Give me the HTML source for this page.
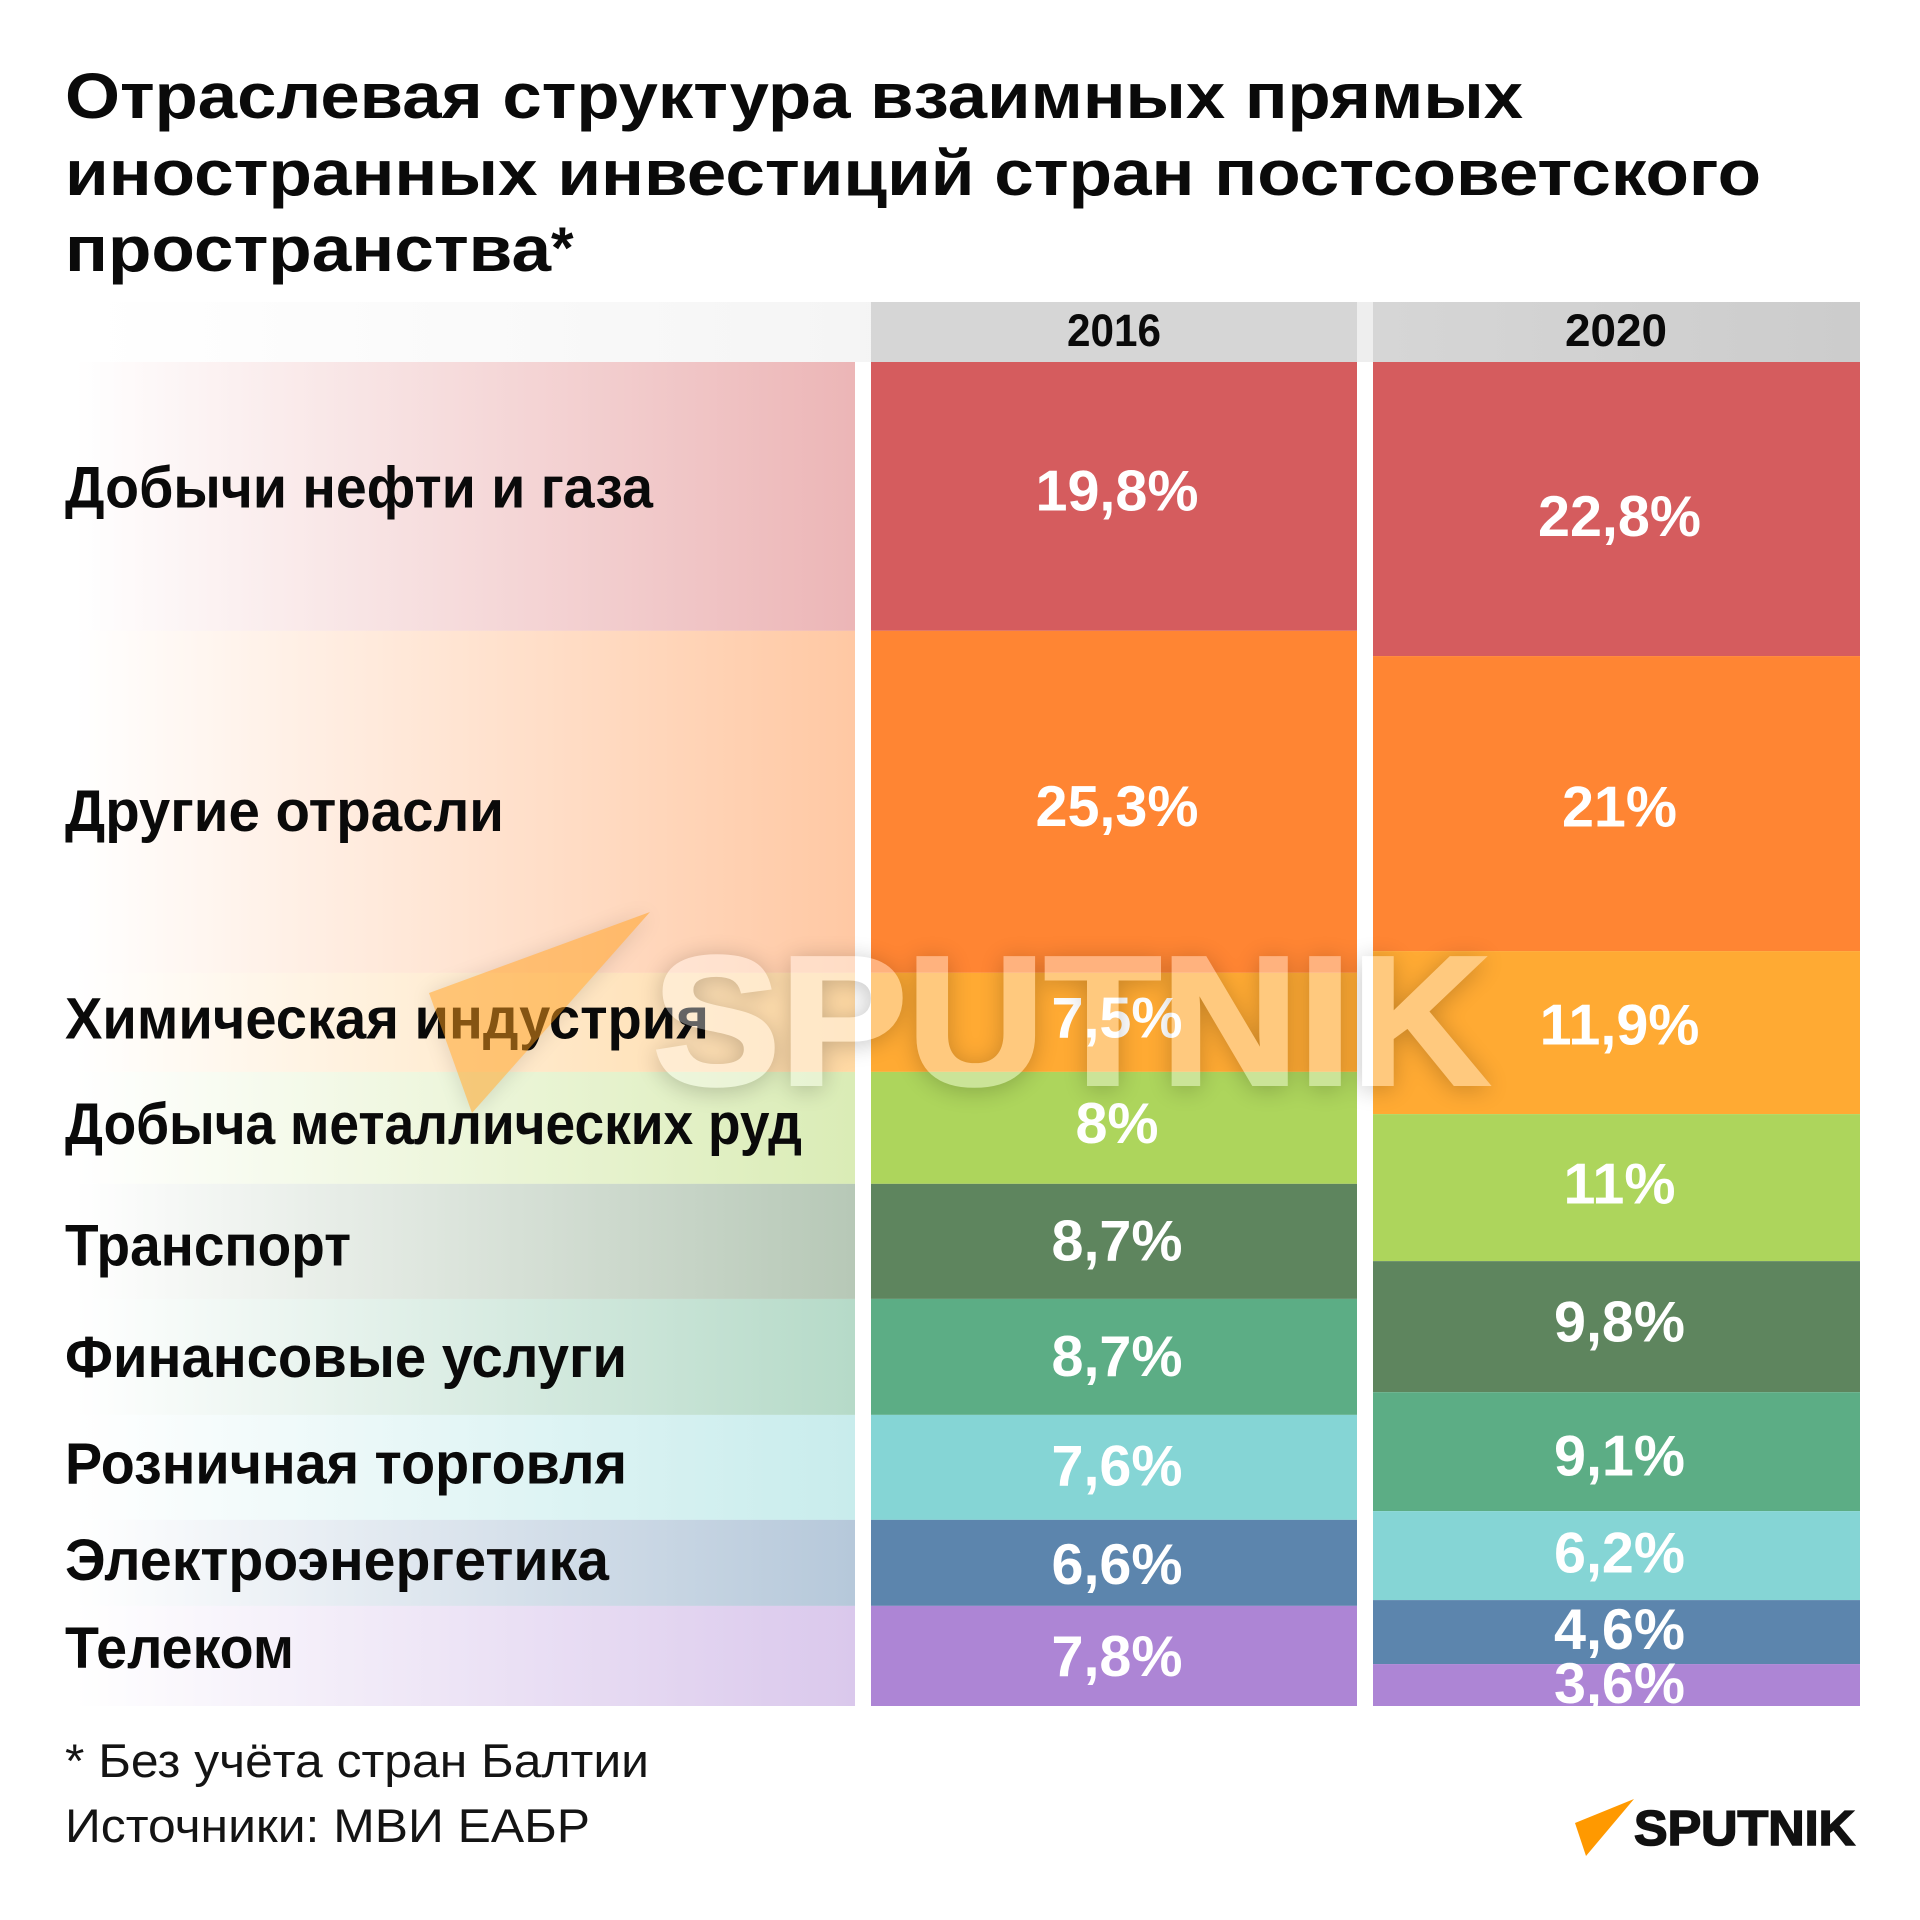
<!DOCTYPE html>
<html lang="ru">
<head>
<meta charset="utf-8">
<title>Отраслевая структура взаимных прямых иностранных инвестиций</title>
<style>
html,body{margin:0;padding:0;background:#fff;}
svg{display:block;}
text{font-family:"Liberation Sans","Noto Sans CJK SC",sans-serif;}
</style>
</head>
<body>
<svg id="chart" xmlns="http://www.w3.org/2000/svg" width="1920" height="1920" viewBox="0 0 1920 1920">
  <defs id="defs">
    <linearGradient id="header-fade" gradientUnits="userSpaceOnUse" x1="90" y1="0" x2="1373" y2="0">
      <stop offset="0" stop-color="#ffffff"/>
      <stop offset="1" stop-color="#eeeeee"/>
    </linearGradient>
    <linearGradient id="header-2020-fade" gradientUnits="userSpaceOnUse" x1="1373" y1="0" x2="1860" y2="0">
      <stop offset="0" stop-color="#d6d6d6"/>
      <stop offset="1" stop-color="#cccccc"/>
    </linearGradient>
    <clipPath id="plot-clip"><rect x="0" y="362" width="1920" height="1344"/></clipPath>
  </defs>
  <rect width="1920" height="1920" fill="#ffffff"/>

  <g font-size="64" font-weight="700" fill="#0a0a0a">
    <text x="65" y="118" textLength="1458" lengthAdjust="spacingAndGlyphs">Отраслевая структура взаимных прямых</text>
    <text x="65" y="195" textLength="1696" lengthAdjust="spacingAndGlyphs">иностранных инвестиций стран постсоветского</text>
    <text x="65" y="271" textLength="486" lengthAdjust="spacingAndGlyphs">пространства</text>
    <text x="551" y="268" font-size="58">*</text>
  </g>

  <rect x="90" y="302" width="1283" height="60" fill="url(#header-fade)"/>
  <rect x="871" y="302" width="486" height="60" fill="#d6d6d6"/>
  <rect x="1373" y="302" width="487" height="60" fill="url(#header-2020-fade)"/>
  <text x="1114" y="346" font-size="45" font-weight="700" fill="#0a0a0a" text-anchor="middle" textLength="94" lengthAdjust="spacingAndGlyphs">2016</text>
  <text x="1616" y="346" font-size="45" font-weight="700" fill="#0a0a0a" text-anchor="middle" textLength="102" lengthAdjust="spacingAndGlyphs">2020</text>

  <g id="panels"></g>
  <g id="bands"></g>
  <g id="row-labels"></g>
  <g id="value-labels" clip-path="url(#plot-clip)"></g>

  <g font-size="47" fill="#141414">
    <text x="65" y="1777" textLength="584" lengthAdjust="spacingAndGlyphs">* Без учёта стран Балтии</text>
    <text x="65" y="1842" textLength="525" lengthAdjust="spacingAndGlyphs">Источники: МВИ ЕАБР</text>
  </g>

  <g>
    <polygon points="1634,1799 1575,1823 1586,1856" fill="#ff9900"/>
    <text x="1634" y="1845" font-size="49" font-weight="700" fill="#111111" stroke="#111111" stroke-width="1.6" textLength="221" lengthAdjust="spacingAndGlyphs">SPUTNIK</text>
  </g>

  <g>
    <polygon points="650,912 429,993 472,1113" fill="#ff9d1a" opacity="0.5" style="filter:drop-shadow(0 2px 10px rgba(0,0,0,.25))"/>
    <text x="653" y="1084" font-size="183" font-weight="700" fill="#ffffff" stroke="#ffffff" stroke-width="4" opacity="0.37" textLength="836" lengthAdjust="spacingAndGlyphs" style="filter:drop-shadow(0 3px 12px rgba(0,0,0,.6))">SPUTNIK</text>
  </g>
</svg>

<script>
/* ---------- chart data ---------- */
const categories = ["Добычи нефти и газа", "Другие отрасли", "Химическая индустрия", "Добыча металлических руд", "Транспорт", "Финансовые услуги", "Розничная торговля", "Электроэнергетика", "Телеком"];
/* band shares (% of column height) */
const shares2016 = [20.0, 25.45, 7.37, 8.33, 8.56, 8.63, 7.81, 6.4, 7.45];
const shares2020 = [21.88, 21.95, 12.13, 10.94, 9.75, 8.85, 6.62, 4.76, 3.12];
/* values as printed on the chart */
const printed2016 = ["19,8%", "25,3%", "7,5%", "8%", "8,7%", "8,7%", "7,6%", "6,6%", "7,8%"];
const printed2020 = ["22,8%", "21%", "11,9%", "11%", "9,8%", "9,1%", "6,2%", "4,6%", "3,6%"];

/* ---------- layout and style, separate from the data ---------- */
const SVG_NS = "http://www.w3.org/2000/svg";
const sectorColors = ["#d55c5e", "#ff8533", "#ffaa33", "#add55c", "#5e855e", "#5cad85", "#85d5d5", "#5c85ad", "#ad85d5"];
const rowLabelFit = [
  {width: 588, nudge: 11}, {width: 439, nudge: 29}, {width: 644, nudge: 16},
  {width: 737, nudge: 16}, {width: 286, nudge: 24}, {width: 562, nudge: 20},
  {width: 562, nudge: 16}, {width: 544, nudge: 17}, {width: 229, nudge: 12}
];
const labelDrift2016 = [-5, 5, -4, -4, 0, 0, -1, 2, 1];
const labelDrift2020 = [8, 4, -7, -3, -4, 5, -2, -2, -1];
const PLOT_TOP = 362, PLOT_HEIGHT = 1344;
const COL_2016 = {x: 871, width: 486};
const COL_2020 = {x: 1373, width: 487};

/* axis function: cumulative share -> pixel y */
function yScale(cumulativeShare) {
  return PLOT_TOP + cumulativeShare / 100 * PLOT_HEIGHT;
}
function svgEl(tag) {
  return document.createElementNS(SVG_NS, tag);
}

const defs = document.getElementById("defs");
const panels = document.getElementById("panels");
const bands = document.getElementById("bands");
const rowLabels = document.getElementById("row-labels");
const valueLabels = document.getElementById("value-labels");

function drawColumn(shares, printed, col, yearName, drift) {
  let cumulative = 0;
  shares.forEach(function (share, i) {
    const y0 = yScale(cumulative);
    const y1 = yScale(cumulative + share);
    cumulative += share;

    const band = svgEl("rect");
    
    
    band.setAttribute("x", col.x);
    band.setAttribute("y", y0);
    band.setAttribute("width", col.width);
    band.setAttribute("height", y1 - y0);
    band.setAttribute("fill", sectorColors[i]);
    bands.appendChild(band);

    const label = svgEl("text");
    
    
    label.setAttribute("x", col.x + col.width / 2 + 3);
    label.setAttribute("y", (y0 + y1) / 2 + 19 + drift[i]);
    label.setAttribute("text-anchor", "middle");
    label.setAttribute("font-size", "57.5");
    label.setAttribute("font-weight", "700");
    label.setAttribute("fill", "#ffffff");
    label.textContent = printed[i];
    valueLabels.appendChild(label);
  });
}

function drawRows(shares) {
  let cumulative = 0;
  shares.forEach(function (share, i) {
    const y0 = yScale(cumulative);
    const y1 = yScale(cumulative + share);
    cumulative += share;

    const grad = svgEl("linearGradient");
    grad.setAttribute("id", "panel-fade-" + i);
    grad.setAttribute("gradientUnits", "userSpaceOnUse");
    grad.setAttribute("x1", "75");
    grad.setAttribute("y1", "0");
    grad.setAttribute("x2", "855");
    grad.setAttribute("y2", "0");
    const stopA = svgEl("stop");
    stopA.setAttribute("offset", "0");
    stopA.setAttribute("stop-color", sectorColors[i]);
    stopA.setAttribute("stop-opacity", "0");
    const stopB = svgEl("stop");
    stopB.setAttribute("offset", "1");
    stopB.setAttribute("stop-color", sectorColors[i]);
    stopB.setAttribute("stop-opacity", "0.45");
    grad.appendChild(stopA);
    grad.appendChild(stopB);
    defs.appendChild(grad);

    const panel = svgEl("rect");
    
    
    panel.setAttribute("x", "75");
    panel.setAttribute("y", y0);
    panel.setAttribute("width", "780");
    panel.setAttribute("height", y1 - y0);
    panel.setAttribute("fill", "url(#panel-fade-" + i + ")");
    panels.appendChild(panel);

    const label = svgEl("text");
    
    
    label.setAttribute("x", "65");
    label.setAttribute("y", (y0 + y1) / 2 + rowLabelFit[i].nudge);
    label.setAttribute("font-size", "58");
    label.setAttribute("font-weight", "700");
    label.setAttribute("fill", "#0a0a0a");
    label.setAttribute("textLength", rowLabelFit[i].width);
    label.setAttribute("lengthAdjust", "spacingAndGlyphs");
    label.textContent = categories[i];
    rowLabels.appendChild(label);
  });
}

drawRows(shares2016);
drawColumn(shares2016, printed2016, COL_2016, "2016", labelDrift2016);
drawColumn(shares2020, printed2020, COL_2020, "2020", labelDrift2020);
</script>
</body>
</html>
